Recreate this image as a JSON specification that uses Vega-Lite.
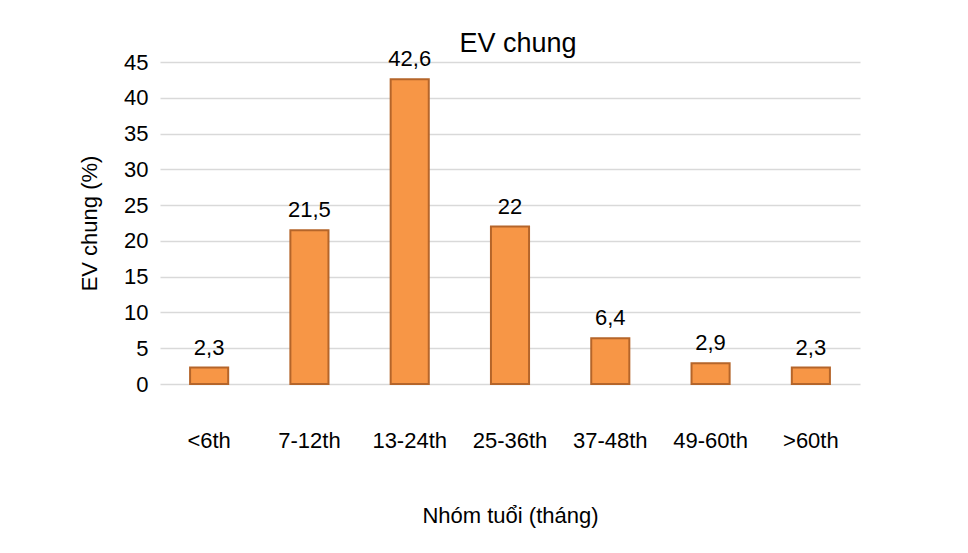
{
  "$schema": "https://vega.github.io/schema/vega-lite/v6.json",
  "autosize": {"type": "none"},
  "width": 700,
  "height": 322,
  "padding": {"left": 160, "top": 62, "right": 108, "bottom": 169},
  "background": "white",
  "title": {"text": "EV chung", "font": "Liberation Sans", "fontSize": 27, "fontWeight": "normal", "color": "#000000", "offset": -10, "anchor": "middle", "dx": 8},
  "data": {"values": [
    {"group": "<6th", "value": 2.3, "label": "2,3"},
    {"group": "7-12th", "value": 21.5, "label": "21,5"},
    {"group": "13-24th", "value": 42.6, "label": "42,6"},
    {"group": "25-36th", "value": 22, "label": "22"},
    {"group": "37-48th", "value": 6.4, "label": "6,4"},
    {"group": "49-60th", "value": 2.9, "label": "2,9"},
    {"group": ">60th", "value": 2.3, "label": "2,3"}
  ]},
  "encoding": {
    "x": {"field": "group", "type": "nominal", "sort": null,
      "scale": {"paddingInner": 0.62, "paddingOuter": 0.3},
      "axis": {"title": "Nhóm tuổi (tháng)", "labelAngle": 0, "labelFontSize": 22, "titleFontSize": 22, "labelFont": "Liberation Sans", "titleFont": "Liberation Sans", "titleFontWeight": "normal", "labelColor": "#000000", "titleColor": "#000000", "domain": false, "ticks": false, "labelPadding": 46, "titlePadding": 54}},
    "y": {"field": "value", "type": "quantitative",
      "scale": {"domain": [0, 45]},
      "axis": {"title": "EV chung (%)", "values": [0,5,10,15,20,25,30,35,40,45], "labelFontSize": 22, "titleFontSize": 22, "labelFont": "Liberation Sans", "titleFont": "Liberation Sans", "titleFontWeight": "normal", "labelColor": "#000000", "titleColor": "#000000", "domain": false, "ticks": false, "labelPadding": 12, "titlePadding": 22, "gridColor": "#d9d9d9", "gridWidth": 1.5}}
  },
  "layer": [
    {"mark": {"type": "bar", "color": "#F79646", "stroke": "#B5652A", "strokeWidth": 2}},
    {"mark": {"type": "text", "dy": -20, "fontSize": 22, "font": "Liberation Sans", "color": "#000000"},
      "encoding": {"text": {"field": "label"}}}
  ],
  "config": {"view": {"stroke": null}}
}
